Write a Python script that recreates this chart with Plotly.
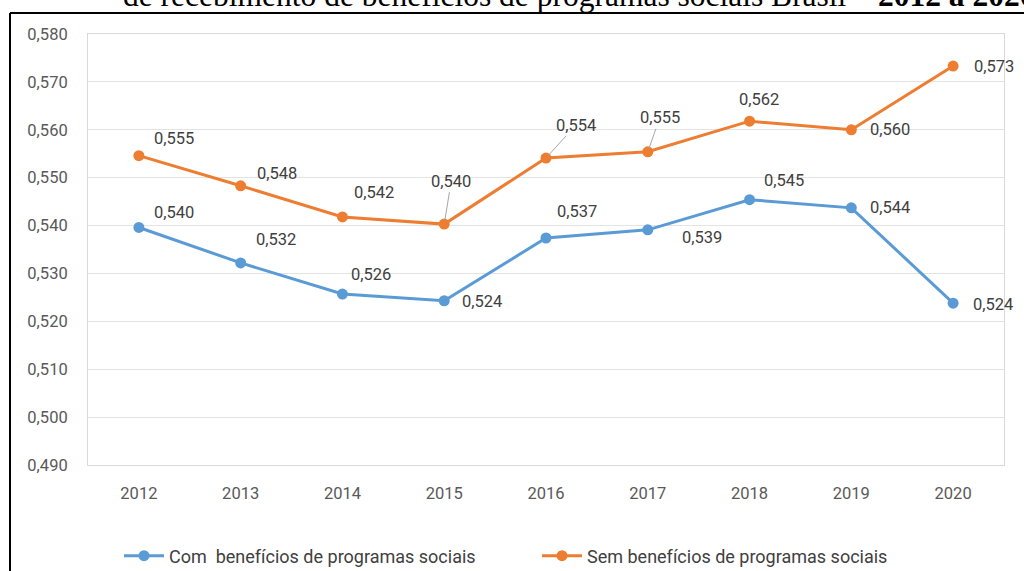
import plotly.graph_objects as go

years = ["2012", "2013", "2014", "2015", "2016", "2017", "2018", "2019", "2020"]
com_beneficios = [0.5396, 0.5322, 0.5257, 0.5243, 0.5374, 0.5391, 0.5454, 0.5437, 0.5238]
sem_beneficios = [0.5546, 0.5483, 0.5418, 0.5403, 0.5541, 0.5554, 0.5618, 0.5600, 0.5733]
series_names = ["Com  benefícios de programas sociais", "Sem benefícios de programas sociais"]
title_text = "de recebimento de benefícios de programas sociais Brasil – <b>2012 a 2020</b>"

# label offsets in pixels (style only)
com_offsets = [(35, -15), (35, -23), (29, -20), (38, 1), (31, -27), (54, 8), (34, -19), (39, 0), (40, 1)]
sem_offsets = [(35, -17), (36, -12), (32, -24), (7, -43), (30, -33), (12, -34), (9, -22), (39, 0), (41, 0)]
sem_leader = [False, False, False, True, True, True, False, False, False]

BLUE = "#5B9BD5"
ORANGE = "#ED7D31"
FONT = "Roboto, sans-serif"
FS = 16.5

fig = go.Figure()
fig.add_trace(go.Scatter(x=years, y=com_beneficios, mode="lines+markers", name=series_names[0],
                         line=dict(color=BLUE, width=3), marker=dict(size=11, color=BLUE)))
fig.add_trace(go.Scatter(x=years, y=sem_beneficios, mode="lines+markers", name=series_names[1],
                         line=dict(color=ORANGE, width=3), marker=dict(size=11, color=ORANGE)))

def fmt(v):
    return f"{v:.3f}".replace(".", ",")

ann = []
for i, (v, (dx, dy)) in enumerate(zip(com_beneficios, com_offsets)):
    ann.append(dict(x=i, y=v, xref="x", yref="y", text=fmt(v), showarrow=True, arrowcolor="rgba(0,0,0,0)",
                    ax=dx, ay=dy, font=dict(family=FONT, size=FS, color="#404040")))
for i, (v, (dx, dy), lead) in enumerate(zip(sem_beneficios, sem_offsets, sem_leader)):
    ann.append(dict(x=i, y=v, xref="x", yref="y", text=fmt(v), showarrow=True,
                    arrowcolor="#A6A6A6" if lead else "rgba(0,0,0,0)", arrowwidth=1, arrowhead=0,
                    standoff=4, ax=dx, ay=dy, font=dict(family=FONT, size=FS, color="#404040")))

# partially clipped title at the top of the page
ann.append(dict(x=(121 - 88) / 916, y=1.0, xref="paper", yref="paper", xanchor="left", yanchor="bottom",
                text=title_text, showarrow=False, yshift=19,
                font=dict(family="Liberation Serif, DejaVu Serif, serif", size=31.5, color="#000000")))

fig.update_layout(
    width=1024, height=571,
    margin=dict(l=88, r=20, t=34, b=106),
    paper_bgcolor="white", plot_bgcolor="white",
    separators=",.",
    showlegend=True,
    legend=dict(orientation="h", x=(119 - 88) / 916, xanchor="left",
                yref="container", y=1 - 556 / 571, yanchor="middle",
                font=dict(family=FONT, size=18, color="#404040"), entrywidth=363, entrywidthmode="pixels",
                itemwidth=40),
    annotations=ann,
    shapes=[
        dict(type="line", xref="paper", yref="paper", x0=(10 - 88) / 916, x1=1.2,
             y0=(465 - 13) / 431, y1=(465 - 13) / 431, line=dict(color="black", width=2)),
        dict(type="line", xref="paper", yref="paper", x0=(10 - 88) / 916, x1=(10 - 88) / 916,
             y0=(465 - 13) / 431, y1=-0.4, line=dict(color="black", width=2)),
    ],
)

fig.update_xaxes(type="category", range=[-0.5, 8.5], showgrid=False, showline=True, linecolor="#D9D9D9",
                 linewidth=1, mirror=True, ticks="", ticklabelstandoff=13, automargin=False,
                 tickfont=dict(family=FONT, size=FS, color="#595959"))
fig.update_yaxes(range=[0.49, 0.58], dtick=0.01, tickformat=".3f", showgrid=True, gridcolor="#E3E3E3",
                 gridwidth=1, showline=True, linecolor="#D9D9D9", linewidth=1, mirror=True, zeroline=False,
                 ticks="", ticklabelstandoff=16, automargin=False,
                 tickfont=dict(family=FONT, size=FS, color="#595959"))

fig.write_html("out.html", config={"displayModeBar": False},
               post_script="document.body.style.margin='0';")
